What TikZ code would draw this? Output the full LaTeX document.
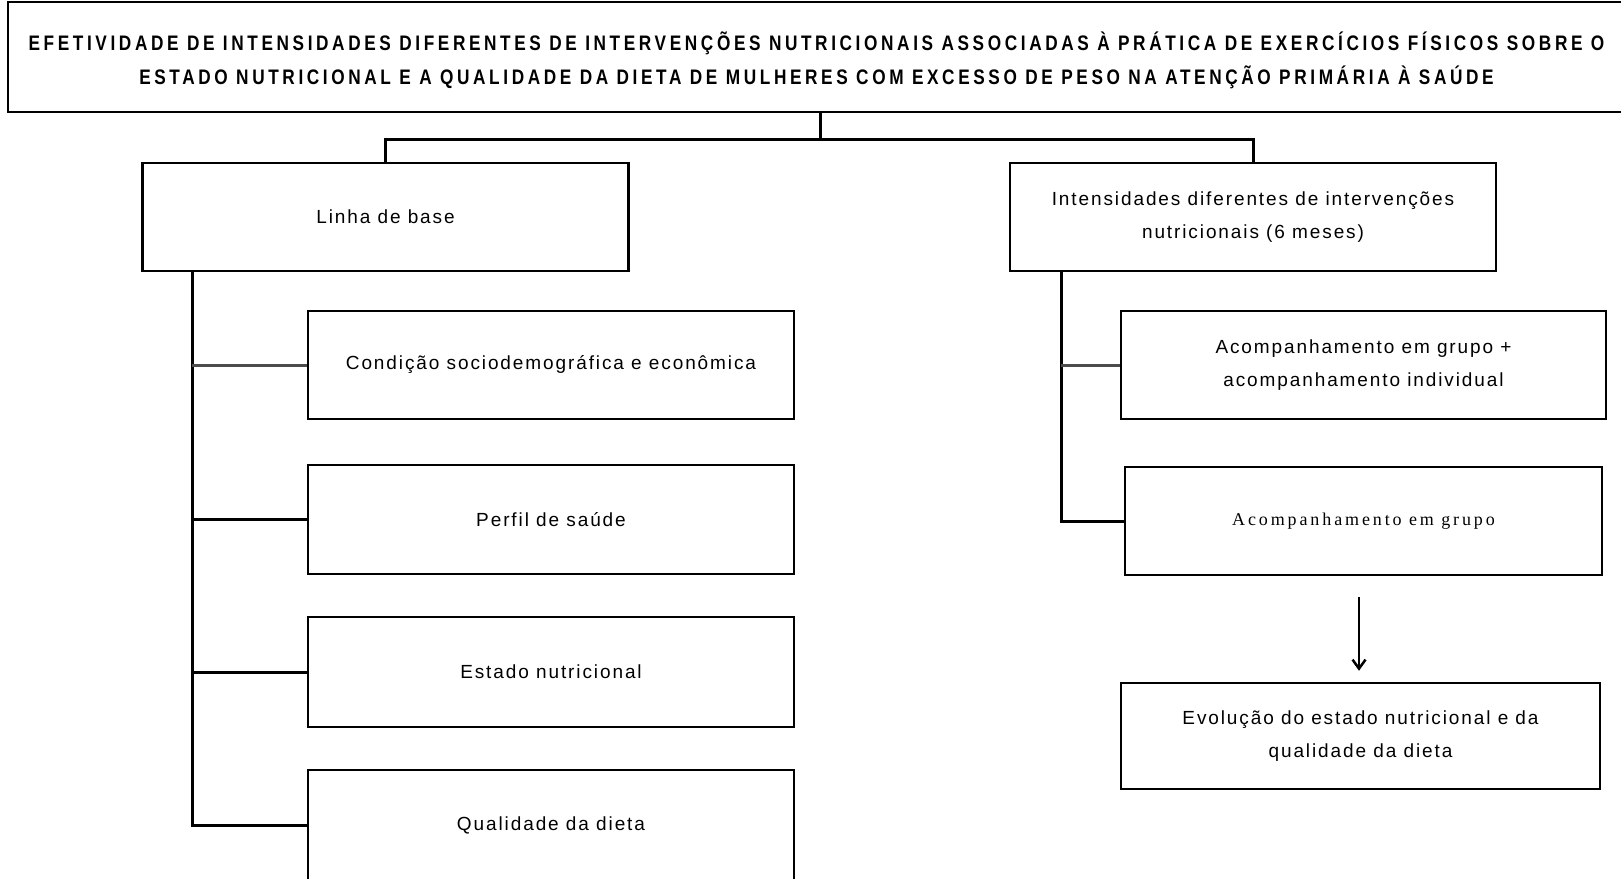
\documentclass[tikz,border=0pt]{standalone}
\usepackage{fontspec}
\setmainfont{Liberation Sans}[LetterSpace=10]
\newfontfamily\serifcaixa{Liberation Serif}[LetterSpace=16]
\newcommand{\estreito}[1]{\scalebox{0.82}[1]{#1}}
\usetikzlibrary{arrows.meta}

\begin{document}
\begin{tikzpicture}[x=1pt,y=-1pt,
    caixa/.style={draw,line width=2.5pt,minimum width=486pt,minimum height=108pt,
      inner sep=0pt,align=center,font=\fontsize{19pt}{33pt}\selectfont},
    liga/.style={line width=3pt},
    ligafina/.style={line width=3pt,black!70}]
  \useasboundingbox (0,0) rectangle (1621,878);
  % titulo
  \node[caixa,minimum width=1617pt,minimum height=110pt,
    font=\bfseries\fontsize{21pt}{34pt}\selectfont\addfontfeatures{LetterSpace=21}] (titulo) at (816.5,57)
    {\rule{0pt}{26pt}\estreito{EFETIVIDADE DE INTENSIDADES DIFERENTES DE INTERVENÇÕES NUTRICIONAIS ASSOCIADAS À PRÁTICA DE EXERCÍCIOS FÍSICOS SOBRE O}\\
     \estreito{ESTADO NUTRICIONAL E A QUALIDADE DA DIETA DE MULHERES COM EXCESSO DE PESO NA ATENÇÃO PRIMÁRIA À SAÚDE}};
  % ramo esquerdo
  \node[caixa] (base) at (385.5,217) {Linha de base};
  \node[caixa] (cond) at (551,365) {Condição sociodemográfica e econômica};
  \node[caixa,minimum height=109pt] (perfil) at (551,519.5) {Perfil de saúde};
  \node[caixa,minimum height=110pt] (estado) at (551,672) {Estado nutricional};
  \node[caixa,minimum height=110pt] (qual) at (551,825) {Qualidade da dieta};
  % ramo direito
  \node[caixa] (interv) at (1253,217) {Intensidades diferentes de intervenções\\ nutricionais (6 meses)};
  \node[caixa,minimum width=485pt] (grupoind) at (1363.5,365) {Acompanhamento em grupo +\\ acompanhamento individual};
  \node[caixa,minimum width=477pt,font=\serifcaixa\fontsize{18pt}{33pt}\selectfont] (grupo) at (1363.5,521) {Acompanhamento em grupo};
  \node[caixa,minimum width=479pt,minimum height=106pt] (evol) at (1360.5,736) {Evolução do estado nutricional e da\\ qualidade da dieta};

  \coordinate (centro) at (820,139);
  \coordinate (esq) at (192,0);
  \coordinate (dir) at (1061,0);
  \coordinate (seta) at (1359,597);

  \begin{scope}[liga]
    \draw (titulo.south -| centro) -- (centro);
    \draw (base.north) |- (centro) -| (interv.north);
    \draw (base.south -| esq) |- (qual.west);
    \draw (esq |- perfil.west) -- (perfil.west);
    \draw (esq |- estado.west) -- (estado.west);
    \draw (interv.south -| dir) |- (grupo.west);
    \draw[line width=2.5pt,-{Straight Barb[length=9pt,width=13pt]},shorten >=11pt] (seta) -- (seta |- evol.north);
  \end{scope}
  \begin{scope}[ligafina]
    \draw (esq |- cond.west) -- (cond.west);
    \draw (dir |- grupoind.west) -- (grupoind.west);
  \end{scope}
\end{tikzpicture}
\end{document}
